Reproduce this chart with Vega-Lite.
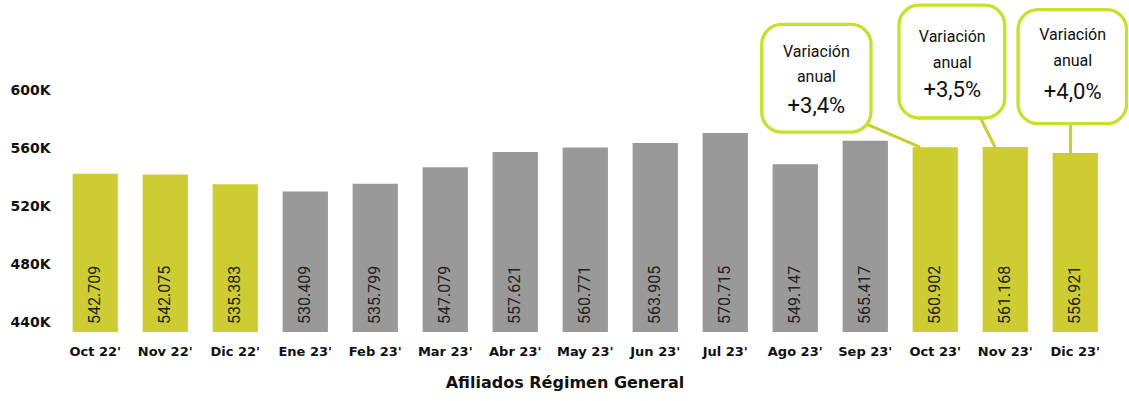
{
  "$schema": "https://vega.github.io/schema/vega-lite/v6.json",
  "autosize": {"type": "none"},
  "width": 1050.5,
  "height": 332,
  "padding": {"left": 60, "top": 0, "right": 18.5, "bottom": 69},
  "background": "white",
  "config": {"view": {"stroke": null}, "font": "Inter"},
  "datasets": {
    "bars": [
      {"mes": "Oct 22'", "afiliados": 542709, "etiqueta": "542.709", "grupo": "anual"},
      {"mes": "Nov 22'", "afiliados": 542075, "etiqueta": "542.075", "grupo": "anual"},
      {"mes": "Dic 22'", "afiliados": 535383, "etiqueta": "535.383", "grupo": "anual"},
      {"mes": "Ene 23'", "afiliados": 530409, "etiqueta": "530.409", "grupo": "otro"},
      {"mes": "Feb 23'", "afiliados": 535799, "etiqueta": "535.799", "grupo": "otro"},
      {"mes": "Mar 23'", "afiliados": 547079, "etiqueta": "547.079", "grupo": "otro"},
      {"mes": "Abr 23'", "afiliados": 557621, "etiqueta": "557.621", "grupo": "otro"},
      {"mes": "May 23'", "afiliados": 560771, "etiqueta": "560.771", "grupo": "otro"},
      {"mes": "Jun 23'", "afiliados": 563905, "etiqueta": "563.905", "grupo": "otro"},
      {"mes": "Jul 23'", "afiliados": 570715, "etiqueta": "570.715", "grupo": "otro"},
      {"mes": "Ago 23'", "afiliados": 549147, "etiqueta": "549.147", "grupo": "otro"},
      {"mes": "Sep 23'", "afiliados": 565417, "etiqueta": "565.417", "grupo": "otro"},
      {"mes": "Oct 23'", "afiliados": 560902, "etiqueta": "560.902", "grupo": "anual"},
      {"mes": "Nov 23'", "afiliados": 561168, "etiqueta": "561.168", "grupo": "anual"},
      {"mes": "Dic 23'", "afiliados": 556921, "etiqueta": "556.921", "grupo": "anual"}
    ],
    "cajas": [
      {"x0": 10.02, "x1": 11.58, "y0": 571400, "y1": 645700},
      {"x0": 11.98, "x1": 13.49, "y0": 581100, "y1": 658900},
      {"x0": 13.68, "x1": 15.23, "y0": 577200, "y1": 655900}
    ],
    "conectores": [
      {"x0": 11.45, "y0": 578300, "x1": 12.28, "y1": 561100},
      {"x0": 13.09, "y0": 586400, "x1": 13.35, "y1": 561100},
      {"x0": 14.43, "y0": 577200, "x1": 14.43, "y1": 556500}
    ],
    "textos": [
      {"xc": 10.8, "yc": 626600, "texto": "Variación", "tipo": "t"},
      {"xc": 10.8, "yc": 609400, "texto": "anual", "tipo": "t"},
      {"xc": 10.8, "yc": 589200, "texto": "+3,4%", "tipo": "v"},
      {"xc": 12.74, "yc": 637000, "texto": "Variación", "tipo": "t"},
      {"xc": 12.74, "yc": 619300, "texto": "anual", "tipo": "t"},
      {"xc": 12.74, "yc": 600700, "texto": "+3,5%", "tipo": "v"},
      {"xc": 14.46, "yc": 638600, "texto": "Variación", "tipo": "t"},
      {"xc": 14.46, "yc": 620200, "texto": "anual", "tipo": "t"},
      {"xc": 14.46, "yc": 599000, "texto": "+4,0%", "tipo": "v"}
    ]
  },
  "layer": [
    {
      "data": {"name": "bars"},
      "layer": [
        {
          "mark": {"type": "bar", "clip": true},
          "encoding": {
            "x": {
              "field": "mes", "type": "nominal", "sort": null,
              "scale": {"paddingInner": 0.353, "paddingOuter": 0.18},
              "axis": {
                "title": "Afiliados Régimen General",
                "titleFont": "DejaVu Sans", "titleFontSize": 16, "titleFontWeight": "bold", "titleColor": "#111111",
                "titlePadding": 16, "titleX": 504.5,
                "labelFont": "DejaVu Sans", "labelFontSize": 13, "labelFontWeight": "bold", "labelColor": "#111111",
                "labelAngle": 0, "labelPadding": 13,
                "domain": false, "ticks": false
              }
            },
            "y": {
              "field": "afiliados", "type": "quantitative",
              "scale": {"domain": [433500, 662500], "nice": false, "zero": false},
              "axis": {
                "title": null,
                "values": [440000, 480000, 520000, 560000, 600000],
                "labelExpr": "format(datum.value / 1000, 'd') + 'K'",
                "labelFont": "DejaVu Sans", "labelFontSize": 14, "labelFontWeight": "bold", "labelColor": "#111111",
                "labelPadding": 10, "domain": false, "ticks": false, "grid": false
              }
            },
            "color": {
              "field": "grupo", "type": "nominal",
              "scale": {"domain": ["anual", "otro"], "range": ["#cdcd33", "#999999"]},
              "legend": null
            }
          }
        },
        {
          "mark": {"type": "text", "angle": 270, "align": "left", "baseline": "middle", "dx": 8, "font": "Roboto", "fontSize": 16, "color": "#222222"},
          "encoding": {
            "x": {"field": "mes", "type": "nominal", "sort": null},
            "y": {"datum": 433500, "type": "quantitative"},
            "text": {"field": "etiqueta"}
          }
        }
      ]
    },
    {
      "data": {"name": "conectores"},
      "mark": {"type": "rule", "color": "#c9cd30", "strokeWidth": 3},
      "encoding": {
        "x": {"field": "x0", "type": "quantitative", "scale": {"domain": [0, 15], "nice": false, "zero": true}, "axis": null},
        "x2": {"field": "x1"},
        "y": {"field": "y0", "type": "quantitative"},
        "y2": {"field": "y1"}
      }
    },
    {
      "data": {"name": "cajas"},
      "mark": {"type": "rect", "fill": "white", "stroke": "#c6e02b", "strokeWidth": 3.3, "cornerRadius": 20},
      "encoding": {
        "x": {"field": "x0", "type": "quantitative", "scale": {"domain": [0, 15], "nice": false, "zero": true}, "axis": null},
        "x2": {"field": "x1"},
        "y": {"field": "y0", "type": "quantitative"},
        "y2": {"field": "y1"}
      }
    },
    {
      "data": {"name": "textos"},
      "mark": {"type": "text", "font": "Roboto", "align": "center", "baseline": "middle", "color": "#111111"},
      "encoding": {
        "x": {"field": "xc", "type": "quantitative", "scale": {"domain": [0, 15], "nice": false, "zero": true}, "axis": null},
        "y": {"field": "yc", "type": "quantitative"},
        "text": {"field": "texto"},
        "size": {"field": "tipo", "type": "nominal", "scale": {"domain": ["t", "v"], "range": [16, 22]}, "legend": null},
        "fontWeight": {"field": "tipo", "type": "nominal", "scale": {"domain": ["t", "v"], "range": [500, 500]}, "legend": null}
      }
    }
  ],
  "resolve": {"scale": {"x": "independent"}}
}
